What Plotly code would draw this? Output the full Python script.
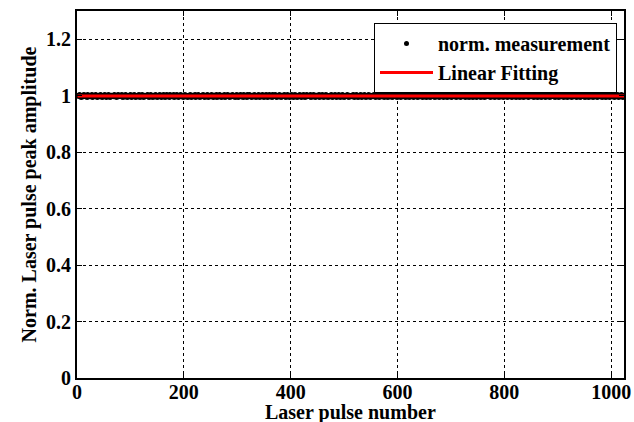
import numpy as np
import plotly.graph_objects as go

# Hand-read deviations of each pulse amplitude from 1.0 (digit d -> 1 + (d-5)*step)
meas_digits = (
    "54657352 54637546 35274563 54672536 45736254 63574625 36473526 45735264"
    "65463754 52647365 46375246 53746254 36475263 54736245 63574265 47352645"
    "46573625 47365246 35746253 64735264 57362547 36452736 45637254 63745236"
    "57463526 47356425 36475246 35647265 34765243 56473625 46375264 53674526"
    "63547256 34756243 65472536 47356246 53746352 64735264 57364527 36456273"
    "45736524 63574625 36475264 35746256 47362547 35642736 54736245 63745263"
    "56473625 47356246 37452637 45625364 73526457 36254736 45637254 63745263"
    "64537264 53746256 47365245 36475263 54736254 67352645 73625436 47352645"
    "53647526 35746253 64752634 57362546 37452643 56473526 45736254 63574625"
    "46375264 53746254 36574625 34765243 65473625 46375264 35746253 64735264"
    "57364526 47356243 65472536 47356245 36475264 35746256 47362547 35642736"
    "54736245 63745263 56473625 47356246 37452637 45625364 73526457 36254736"
    "45637254 63745263 64537264 53746256 47365245 36475263 54736254 67352645"
    "73625436 47352645 53647526 35746253 64752634 57362546 37452643 56473526"
    "45736254 63574625 46375264 53746254 36574625 34765243 65473625 46375264"
    "35746253 64735264 57364526 47356243 65472536 47356245 36475264 35746256"
)
step = 0.002

x_ticks = [0, 200, 400, 600, 800, 1000]
y_ticks = [0, 0.2, 0.4, 0.6, 0.8, 1, 1.2]
y_labels = ["0", "0.2", "0.4", "0.6", "0.8", "1", "1.2"]
x_title = "Laser pulse number"
y_title = "Norm. Laser pulse peak amplitude"

digits = [int(c) for c in meas_digits if c.isdigit()]
pulse = np.arange(1, len(digits) + 1)
amp = np.array([1 + (d - 5) * step for d in digits])

coef = np.polyfit(pulse, amp, 1)
fit_x = np.array([pulse[0], pulse[-1]])
fit_y = np.polyval(coef, fit_x)

FONT = "Liberation Serif"
FS = 20
W, H = 634, 422
ML, MR, MT, MB = 77, 10, 11, 44
plot_h = H - MT - MB

fig = go.Figure()
fig.add_trace(go.Scatter(
    x=pulse, y=amp, mode="markers", name="norm. measurement",
    marker=dict(color="black", size=5, line=dict(width=0)),
))
fig.add_trace(go.Scatter(
    x=fit_x, y=fit_y, mode="lines", name="Linear Fitting",
    line=dict(color="#ff0000", width=3),
))

axis_common = dict(
    showgrid=True, gridcolor="black", griddash="3px,3px", gridwidth=1,
    showline=True, linecolor="black", linewidth=2, mirror="allticks",
    ticks="inside", ticklen=5, tickcolor="black", tickwidth=1,
    zeroline=False, automargin=False,
    tickfont=dict(family=FONT, size=FS, color="black", weight="bold"),
)

fig.update_layout(
    width=W, height=H,
    margin=dict(l=ML, r=MR, t=MT, b=MB),
    paper_bgcolor="white", plot_bgcolor="white",
    font=dict(family=FONT, size=FS, color="black", weight="bold"),
    xaxis=dict(range=[0, 1024], tickvals=x_ticks, ticklabelstandoff=-5,
               **axis_common),
    yaxis=dict(
        range=[0, 1.3], tickvals=y_ticks, ticktext=y_labels,
        title=dict(text=y_title, standoff=4,
                   font=dict(family=FONT, size=FS, color="black", weight="bold")),
        **axis_common,
    ),
    legend=dict(
        x=(617 - ML) / (W - ML - MR), xanchor="right", y=0.967, yanchor="top",
        bordercolor="black", borderwidth=1, bgcolor="white",
        font=dict(family=FONT, size=FS, color="black", weight="bold"),
        itemwidth=53,
    ),
    showlegend=True,
    annotations=[dict(
        text=x_title, xref="paper", yref="paper",
        x=0.5, y=-(34 / plot_h), xanchor="center", yanchor="middle",
        showarrow=False,
        font=dict(family=FONT, size=FS, color="black", weight="bold"),
    )],
)

fig.write_html("out.html")
